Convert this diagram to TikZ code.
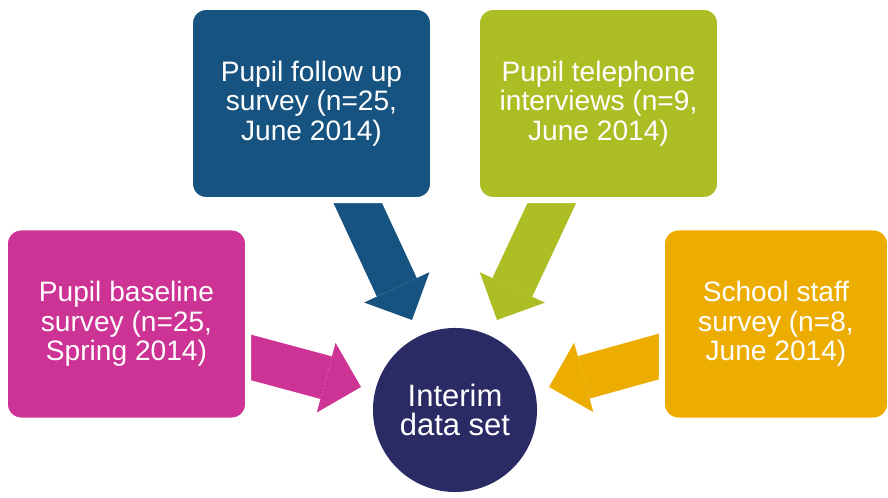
\documentclass[tikz,border=0pt]{standalone}
\usepackage{fontspec}
\setmainfont{Liberation Sans}
\usetikzlibrary{arrows.meta}
\pgfdeclarelayer{background}
\pgfsetlayers{background,main}

\definecolor{pupilpink}{RGB}{204,51,148}
\definecolor{pupilblue}{RGB}{23,83,128}
\definecolor{pupilgreen}{RGB}{173,189,36}
\definecolor{staffgold}{RGB}{236,172,0}
\definecolor{interimnavy}{RGB}{42,42,101}

\begin{document}
\begin{tikzpicture}[
    x=0.025cm, y=-0.025cm,
    font=\fontsize{20}{21}\selectfont,
    % Style for the data source boxes
    source/.style={
        rectangle, rounded corners=0.4cm,
        draw=white, line width=0.15cm,
        text=white, align=center, inner sep=0pt,
        minimum width=6.075cm, minimum height=4.825cm
    },
    % Style for the block arrows feeding the data set
    feed/.style={
        line width=1.1cm,
        -{Triangle[length=0.9cm, width=1.8cm, line width=0pt]}
    }
]

% --- Frame ---
\useasboundingbox (0,0) rectangle (888,498);

% --- Data sources ---
\node[source, fill=pupilpink] (baseline) at (126.5,324)
    {Pupil baseline\\survey (n=25,\\Spring 2014)};
\node[source, fill=pupilblue] (followup) at (311.5,103.5)
    {Pupil follow up\\survey (n=25,\\June 2014)};
\node[source, fill=pupilgreen] (telephone) at (598.5,103.5)
    {Pupil telephone\\interviews (n=9,\\June 2014)};
% cut off by the right edge
\node[source, fill=staffgold, minimum width=5.7cm] (staff) at (776,324)
    {School staff\\survey (n=8,\\June 2014)};

% --- Interim data set ---
\node[circle, fill=interimnavy, text=white, align=center,
      font=\fontsize{22}{20.5}\selectfont,
      minimum size=4.1cm, inner sep=0pt] (interim) at (455,410)
    {Interim\\data set};

% --- Arrow tips ---
\coordinate (tipbaseline) at (361,387);
\coordinate (tipfollowup) at (412,320);
\coordinate (tiptelephone) at (497,320);
\coordinate (tipstaff) at (549,387);

% --- Arrows, behind the boxes ---
\begin{pgfonlayer}{background}
\draw[feed, pupilpink] (baseline.center) -- (tipbaseline);
\draw[feed, pupilblue] (followup.center) -- (tipfollowup);
\draw[feed, pupilgreen] (telephone.center) -- (tiptelephone);
\draw[feed, staffgold] (staff.center) -- (tipstaff);
\end{pgfonlayer}

\end{tikzpicture}
\end{document}
